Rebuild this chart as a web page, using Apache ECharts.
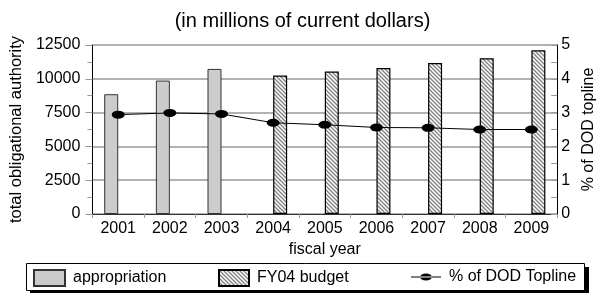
<!DOCTYPE html>
<html><head><meta charset="utf-8">
<script src="https://cdn.jsdelivr.net/npm/echarts@6/dist/echarts.min.js"></script>
<style>html,body{margin:0;padding:0;background:#fff}#c{width:605px;height:293px}</style>
</head><body><div id="c"></div>
<script>
var categories = ['2001','2002','2003','2004','2005','2006','2007','2008','2009'];
var appropriation = [8860, 9870, 10730, '-', '-', '-', '-', '-', '-'];
var fy04Budget = ['-', '-', '-', 10240, 10535, 10800, 11170, 11520, 12110];
var pctTopline = [2.94, 2.99, 2.96, 2.70, 2.64, 2.56, 2.55, 2.50, 2.50];
var leftTicks = [0, 2500, 5000, 7500, 10000, 12500];
var rightTicks = [0, 1, 2, 3, 4, 5];

var cv = document.createElement('canvas');
cv.width = 4; cv.height = 4;
var g = cv.getContext('2d');
g.fillStyle = '#fff'; g.fillRect(0,0,4,4);
g.strokeStyle = '#808080'; g.lineWidth = 1.3;
g.beginPath();
g.moveTo(-1,-1); g.lineTo(5,5);
g.moveTo(-1,3); g.lineTo(1,5);
g.moveTo(3,-1); g.lineTo(5,1);
g.stroke();

var FONT = 'Liberation Sans, Arial, sans-serif';
var chart = echarts.init(document.getElementById('c'), null, {renderer:'canvas'});
var txt = {color:'#000', fontFamily: FONT, fontSize: 16};
var legTxt = {color:'#000', fontFamily: FONT, fontSize: 16, padding: [0,0,0,3]};
var lineIcon = 'path://M0,7.5 H30 V8.5 H0 Z M9,8 A6,3.5 0 1,0 21,8 A6,3.5 0 1,0 9,8 Z';
chart.setOption({
  animation: false,
  backgroundColor: '#fff',
  title: {text: '(in millions of current dollars)', left: 'center', top: 6,
    textStyle: {color:'#000', fontFamily: FONT, fontSize: 20, fontWeight: 'normal'}},
  graphic: [
    {type:'rect', shape:{x:30, y:267, width:559, height:27}, style:{fill:'#000'}, z:-2},
    {type:'rect', shape:{x:26.5, y:263.5, width:558, height:27}, style:{fill:'#fff', stroke:'#000', lineWidth:1}, z:-1}
  ],
  legend: [
    {data:[{name:'appropriation', icon:'rect'}], left: 33, top: 269, padding: 0, itemWidth: 31, itemHeight: 16, itemGap: 0, textStyle: legTxt},
    {data:[{name:'FY04 budget', icon:'rect'}], left: 218, top: 269, padding: 0, itemWidth: 30, itemHeight: 16, itemGap: 0, textStyle: legTxt},
    {data:[{name:'% of DOD Topline', icon: lineIcon}], left: 411, top: 269, padding: 0, itemWidth: 30, itemHeight: 16, itemGap: 0, textStyle: legTxt}
  ],
  grid: {left: 89, right: 42, top: 45, bottom: 79},
  xAxis: {
    type: 'category', data: categories, boundaryGap: true,
    name: 'fiscal year', nameLocation: 'middle', nameGap: 25, nameTextStyle: txt,
    axisLine: {lineStyle: {color: '#333', width: 1}},
    axisTick: {show: true, length: 4, lineStyle: {color: '#999'}},
    axisLabel: Object.assign({margin: 7}, txt)
  },
  yAxis: [
    {type: 'value', min: 0, max: 12500, interval: 2500, position: 'left',
     name: 'total obligational authority', nameLocation: 'middle', nameGap: 63,
     nameTextStyle: {color:'#000', fontFamily: FONT, fontSize: 16.5},
     axisLine: {show: true, lineStyle: {color: '#000', width: 1}},
     axisTick: {show: true, length: 7, lineStyle: {color: '#999'}},
     minorTick: {show: true, splitNumber: 2, length: 5, lineStyle: {color: '#999'}},
     splitLine: {show: true, lineStyle: {color: '#999', width: 1.5}},
     axisLabel: Object.assign({margin: 12, formatter: function(v){ return leftTicks.indexOf(v) >= 0 ? String(v) : ''; }}, txt)
    },
    {type: 'value', min: 0, max: 5, interval: 1, position: 'right',
     name: '% of DOD topline', nameLocation: 'middle', nameGap: 22, nameRotate: 90, nameTextStyle: txt,
     axisLine: {show: true, lineStyle: {color: '#000', width: 1}},
     axisTick: {show: true, inside: true, length: 6, lineStyle: {color: '#999'}},
     minorTick: {show: true, splitNumber: 2, length: 6, lineStyle: {color: '#999'}},
     splitLine: {show: false},
     axisLabel: Object.assign({margin: 4, formatter: function(v){ return rightTicks.indexOf(v) >= 0 ? String(v) : ''; }}, txt)
    }
  ],
  series: [
    {name: 'appropriation', type: 'bar', data: appropriation, barWidth: 14, barGap: '0%',
     itemStyle: {color: '#cccccc', borderColor: '#333', borderWidth: 1}},
    {name: 'FY04 budget', type: 'bar', data: fy04Budget, barWidth: 14, barGap: '0%',
     itemStyle: {color: {image: cv, repeat: 'repeat'}, borderColor: '#000', borderWidth: 1.2}},
    {name: '% of DOD Topline', type: 'line', yAxisIndex: 1, data: pctTopline,
     symbol: 'circle', symbolSize: [13, 8], z: 5,
     lineStyle: {color: '#000', width: 1}, itemStyle: {color: '#000'}}
  ]
});
</script></body></html>
